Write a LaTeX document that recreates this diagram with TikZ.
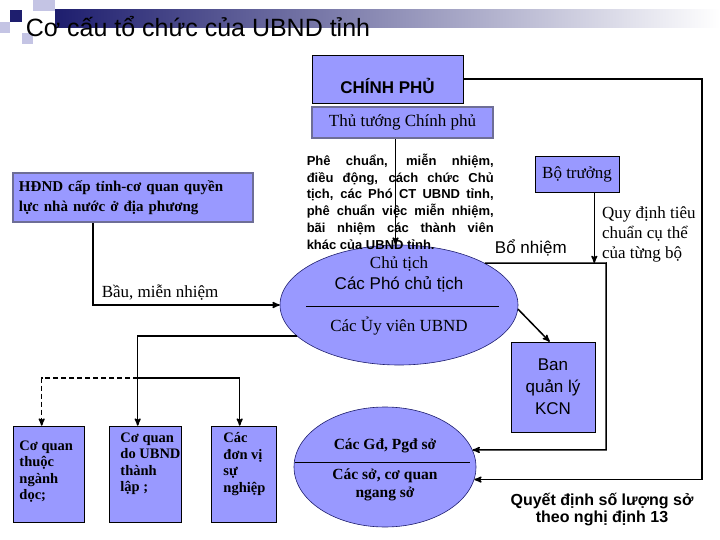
\documentclass[tikz,border=0pt]{standalone}
\usepackage{fontspec}
\setmainfont{Liberation Serif}
\setsansfont{Liberation Sans}
\usepackage{tikz}
\usetikzlibrary{arrows,shapes.geometric}
\definecolor{boxblue}{RGB}{153,153,255}
\definecolor{navy}{RGB}{30,30,110}
\definecolor{frame}{RGB}{110,110,150}
\definecolor{pale}{RGB}{196,196,228}

\begin{document}
\begin{tikzpicture}[x=1pt,y=-1pt,->,>=stealth',line width=1.5pt]
\tikzstyle{every node}=[inner sep=0pt,font=\fontsize{17}{20}\selectfont]
\tikzstyle{box}=[draw=black,fill=boxblue,line width=0.6pt]
\tikzstyle{framed}=[draw=frame,fill=boxblue,line width=2.2pt]
\tikzstyle{oval}=[ellipse,draw=navy,fill=boxblue,line width=0.6pt]
\tikzstyle{small}=[font=\bfseries\fontsize{14.5}{16.5}\selectfont,align=left]
\useasboundingbox (0,0) rectangle (720,540);

% heading
\shade[left color=navy,middle color=navy!30,right color=white] (55,10) rectangle (720,28);
\fill[pale] (33,0) rectangle (55,11);
\fill[pale] (0,22) rectangle (10,33);
\fill[pale] (22,33) rectangle (33,44);
\fill[navy] (10,10) rectangle (22,22);
\node[anchor=base west,font=\sffamily\fontsize{25}{28}\selectfont] (title) at (25,37) {Cơ cấu tổ chức của UBND tỉnh};

% top
\node[box,minimum width=151pt,minimum height=48pt,
      label={[font=\sffamily\bfseries\fontsize{17}{20}\selectfont,yshift=-7pt]center:CHÍNH PHỦ}] (cp) at (387.5,79) {};
\node[framed,minimum width=181pt,minimum height=31pt] (ttg) at (402.5,122.5) {Thủ tướng Chính phủ};

\node[framed,minimum width=240pt,minimum height=49pt,text width=228pt,align=left,
      font=\bfseries\fontsize{15}{20}\selectfont] (hd) at (133,197.5)
  {HĐND cấp tỉnh-cơ quan quyền\\lực nhà nước ở địa phương};

% uy ban
\node[oval,minimum width=238pt,minimum height=120pt] (ct) at (399,305) {};
\node (ct1) at (399,264) {Chủ tịch};
\node[font=\sffamily\fontsize{17}{20}\selectfont] (ct2) at (399,284) {Các Phó chủ tịch};
\node (ct3) at (399,326) {Các Ủy viên UBND};
\draw[-,line width=0.8pt] (ct.center) ++(-93,1) -- ++(193,0);

\node[anchor=north west,text width=187pt,align=justify,
      font=\sffamily\bfseries\fontsize{13}{16.8}\selectfont] (pc) at (306,153)
  {Phê chuẩn, miễn nhiệm,\linebreak điều động, cách chức Chủ\linebreak tịch, các Phó CT UBND tỉnh,\linebreak phê chuẩn việc miễn nhiệm,\linebreak bãi nhiệm các thành viên\linebreak khác của UBND tỉnh.};

\node[box,minimum width=84pt,minimum height=36pt] (bt) at (577,174) {Bộ trưởng};
\node[box,minimum width=84pt,minimum height=90pt,align=center,
      font=\sffamily\fontsize{17}{22}\selectfont] (bq) at (553,387) {Ban\\quản lý\\KCN};

% so
\node[oval,minimum width=182pt,minimum height=120pt] (se) at (385,467) {};
\node[small,font=\bfseries\fontsize{15.5}{18}\selectfont] (se1) at (385,446) {Các Gđ, Pgđ sở};
\node[small,align=center,font=\bfseries\fontsize{15.5}{18}\selectfont] (se2) at (385,485) {Các sở, cơ quan\\ngang sở};
\draw[-,line width=0.8pt] (se.center) ++(-90,-5) -- ++(175,0);

\node[box,minimum width=71pt,minimum height=96pt] (b1) at (48.5,474) {};
\node[box,minimum width=72pt,minimum height=96pt] (b2) at (145,474) {};
\node[box,minimum width=65pt,minimum height=96pt] (b3) at (243.5,474) {};
\node[small,anchor=north west] at (b1.north west) [xshift=6pt,yshift=-14pt] {Cơ quan\\thuộc\\ngành\\dọc;};
\node[small,anchor=north west] at (b2.north west) [xshift=11pt,yshift=-6pt] {Cơ quan\\do UBND\\thành\\lập ;};
\node[small,anchor=north west] at (b3.north west) [xshift=12pt,yshift=-6pt] {Các\\đơn vị\\sự\\nghiệp};

\node[align=center,font=\sffamily\bfseries\fontsize{16}{17}\selectfont] (qd) at (602,510)
  {Quyết định số lượng sở\\theo nghị định 13};

% connectors
\coordinate (ttgout) at ([xshift=-7pt]ttg.south);
\coordinate (hdout) at ([xshift=81pt]hd.south west);
\coordinate (btout) at ([xshift=-25pt]bt.south east);
\coordinate (c1) at (606,263);
\coordinate (c2) at (702,79);
\coordinate (fork) at (138,378);
\coordinate (b1in) at ([xshift=29pt]b1.north west);
\coordinate (b2in) at ([xshift=29pt]b2.north west);
\coordinate (b3in) at ([xshift=29pt]b3.north west);

\draw (ttgout) -- (ttgout |- ct.north);
\draw (hdout) |- node[pos=0.68,above=4pt] {Bầu, miễn nhiệm} (ct.west);
\draw (ct.26) -- node[pos=0.38,above=6pt,font=\sffamily\fontsize{17}{20}\selectfont] {Bổ nhiệm} (c1) |- (se.11);
\draw (btout) -- node[pos=0.6,right=7pt,align=left] {Quy định tiêu\\chuẩn cụ thể\\của từng bộ} (btout |- c1);
\draw (cp.east) -- (c2) |- (se.-8);
\draw (ct.-2) -- ([xshift=39pt]bq.north west);
\draw (ct.197) -| (b2in);
\draw[dash pattern=on 5pt off 3pt] (fork) -| (b1in);
\draw (fork) -| (b3in);
\end{tikzpicture}
\end{document}
